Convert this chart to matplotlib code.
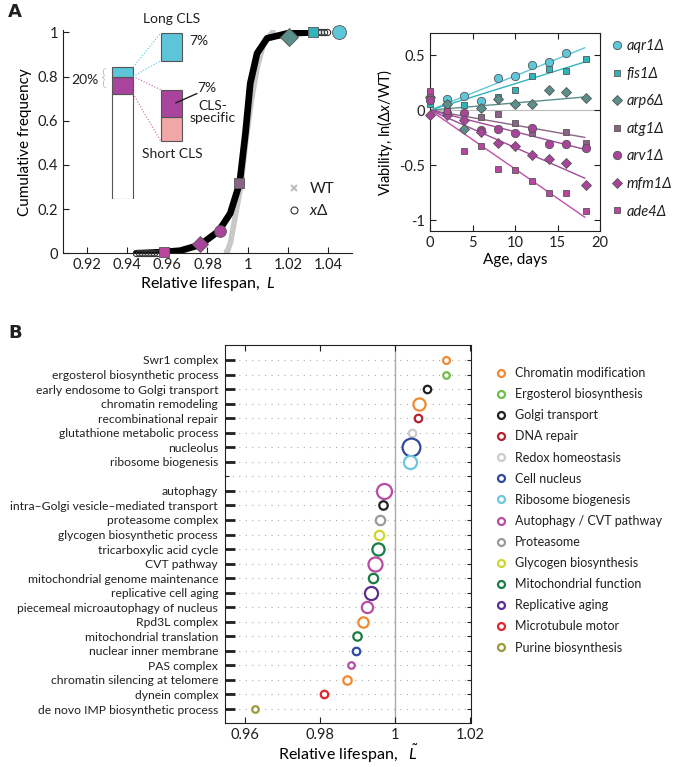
import numpy as np
import matplotlib
matplotlib.use('Agg')
import matplotlib.pyplot as plt
from matplotlib.lines import Line2D
from matplotlib.ticker import FuncFormatter

plt.rcParams['font.family'] = ['Lato', 'DejaVu Sans']
plt.rcParams['mathtext.fontset'] = 'custom'
plt.rcParams['mathtext.rm'] = 'Lato'
plt.rcParams['mathtext.it'] = 'Lato:italic'
plt.rcParams['text.color'] = '#231f20'
plt.rcParams['axes.edgecolor'] = '#231f20'
plt.rcParams['xtick.color'] = '#231f20'
plt.rcParams['ytick.color'] = '#231f20'

# ---- panel A left: cumulative distribution of relative lifespan
curve_L = [0.9445, 0.950, 0.958, 0.9664, 0.9763, 0.9855, 0.9913, 0.996, 0.9989, 1.0013, 1.0047, 1.0097, 1.0197, 1.033]
curve_F = [0.0, 0.002, 0.006, 0.012, 0.038, 0.10, 0.18, 0.317, 0.543, 0.769, 0.905, 0.973, 0.995, 1.0]
wt_L = [0.9895, 0.9915, 0.9935, 0.9965, 0.999, 1.002, 1.005, 1.008, 1.0115, 1.0125]
wt_F = [0.0, 0.05, 0.15, 0.3, 0.5, 0.7, 0.85, 0.95, 0.99, 1.0]
tail_low_L = [0.9445, 0.946, 0.9475, 0.949, 0.9505, 0.952, 0.9535, 0.955]
tail_high_L = [1.0335, 1.035, 1.0365, 1.038, 1.0395]

# inset bar (% of genes)
bar_parts = [80, 13, 7]        # other, short CLS, long CLS
long_cls = 7
cls_specific = 7
short_other = 6

# ---- panel A right: viability vs age
genes = ['aqr1', 'fis1', 'arp6', 'atg1', 'arv1', 'mfm1', 'ade4']
gene_L = [1.0455, 1.0325, 1.0205, 0.9957, 0.986, 0.9763, 0.9584]
gene_F = [1.0, 1.0, 0.98, 0.317, 0.10, 0.04, 0.008]
days = [0, 2, 4, 6, 8, 10, 12, 14, 16, 18.3]
nan = np.nan
viab = {
    'aqr1': [0.115, 0.10, 0.13, 0.084, 0.293, 0.308, 0.408, 0.438, 0.52, nan],
    'fis1': [0.06, 0.054, 0.05, nan, 0.12, 0.187, 0.308, 0.375, 0.356, 0.468],
    'arp6': [0.12, 0.06, -0.175, 0.02, 0.1, 0.057, 0.057, 0.18, 0.166, 0.115],
    'atg1': [0.16, -0.01, nan, -0.06, -0.033, -0.115, -0.21, nan, -0.2, -0.296],
    'arv1': [0.09, -0.024, -0.03, -0.18, -0.172, -0.21, -0.16, -0.308, -0.308, -0.344],
    'mfm1': [-0.04, -0.045, -0.09, -0.2, -0.3, -0.326, -0.41, -0.447, -0.483, -0.68],
    'ade4': [0.175, -0.006, -0.37, -0.323, -0.532, -0.544, -0.643, -0.755, -0.755, -0.92],
}
slopes = [0.0312, 0.0241, 0.0066, -0.0136, -0.0196, -0.034, -0.0535]
fit_end = 18.2

gene_marker = ['o', 's', 'D', 's', 'o', 'D', 's']
gene_face = ['#5ec7d9', '#2fb4bc', '#5b8f8a', '#8a6486', '#a8459b', '#a8459b', '#b9479f']
gene_line = ['#5ec7d9', '#2fb4bc', '#5b8f8a', '#8a6486', '#a04a9a', '#a04a9a', '#c150a9']
gene_ms_big = [10, 7, 9, 7.5, 8.5, 8.5, 7]
gene_ms = [6, 5, 5.5, 5, 6, 5.5, 5]

# ---- panel B: GO terms
terms = ['Swr1 complex', 'ergosterol biosynthetic process', 'early endosome to Golgi transport',
         'chromatin remodeling', 'recombinational repair', 'glutathione metabolic process',
         'nucleolus', 'ribosome biogenesis', '',
         'autophagy', 'intra\u2013Golgi vesicle\u2013mediated transport', 'proteasome complex',
         'glycogen biosynthetic process', 'tricarboxylic acid cycle', 'CVT pathway',
         'mitochondrial genome maintenance', 'replicative cell aging',
         'piecemeal microautophagy of nucleus', 'Rpd3L complex', 'mitochondrial translation',
         'nuclear inner membrane', 'PAS complex', 'chromatin silencing at telomere',
         'dynein complex', 'de novo IMP biosynthetic process']
term_L = [1.0135, 1.0135, 1.0087, 1.0065, 1.0062, 1.0047, 1.0044, 1.0041, nan,
          0.9971, 0.9967, 0.996, 0.9957, 0.9956, 0.9948, 0.9941, 0.9937,
          0.9925, 0.9916, 0.9898, 0.9895, 0.9884, 0.9873, 0.981, 0.9627]
term_size = [3.7, 3.5, 4, 6.5, 4, 4, 9.5, 7, 0,
             8, 4.5, 5, 5, 6.5, 7.5, 5, 7, 6, 5.5, 4.5, 4, 3.5, 4.5, 4, 3.5]
term_cat = [0, 1, 2, 0, 3, 4, 5, 6, None, 7, 2, 8, 9, 10, 7, 10, 11, 7, 0, 10, 5, 7, 0, 12, 13]

categories = ['Chromatin modification', 'Ergosterol biosynthesis', 'Golgi transport', 'DNA repair',
              'Redox homeostasis', 'Cell nucleus', 'Ribosome biogenesis', 'Autophagy / CVT pathway',
              'Proteasome', 'Glycogen biosynthesis', 'Mitochondrial function', 'Replicative aging',
              'Microtubule motor', 'Purine biosynthesis']
cat_colors = ['#f08a32', '#6dbd46', '#231f20', '#b4232c', '#cccccc', '#2f4a9c', '#6cc6dd', '#b94ca5',
              '#9a9a9a', '#cdd531', '#197c45', '#5b2d8e', '#e0262f', '#9b9a3a']

fig = plt.figure(figsize=(6.74, 7.67), dpi=100)
W, H = 674.0, 767.0

def axes_px(x0, y0, x1, y1):
    return fig.add_axes([x0 / W, 1 - y1 / H, (x1 - x0) / W, (y1 - y0) / H])

fmt = FuncFormatter(lambda v, p: '%g' % round(v, 4))

# ================= A left
ax1 = axes_px(63, 30.1, 352, 253.3)
ax1.plot(wt_L, wt_F, color='#c8c8c8', lw=4, solid_capstyle='round', zorder=2)
ax1.plot([wt_L[0], wt_L[-1]], [wt_F[0], wt_F[-1]], 'x', color='#c8c8c8', ms=5, mew=1.5, zorder=2)
ax1.plot(curve_L, curve_F, color='black', lw=4.8, solid_capstyle='round', zorder=3)
ax1.plot(tail_low_L, [0] * len(tail_low_L), 'o', mfc='none', mec='#333333', ms=4.5, mew=0.8,
         clip_on=False, zorder=3)
ax1.plot(tail_high_L, [1] * len(tail_high_L), 'o', mfc='none', mec='#333333', ms=4.5, mew=0.8,
         clip_on=False, zorder=3)
for i in range(len(genes)):
    ax1.plot(gene_L[i], gene_F[i], gene_marker[i], mfc=gene_face[i], mec='#555555', mew=0.6,
             ms=gene_ms_big[i], clip_on=False, zorder=5)
ax1.set_xlim(0.908, 1.052)
ax1.set_ylim(0, 1.01)
ax1.set_xticks([0.92, 0.94, 0.96, 0.98, 1, 1.02, 1.04])
ax1.set_yticks([0, 0.2, 0.4, 0.6, 0.8, 1])
ax1.xaxis.set_major_formatter(fmt)
ax1.yaxis.set_major_formatter(fmt)
ax1.spines['top'].set_visible(False)
ax1.spines['right'].set_visible(False)
ax1.tick_params(direction='in', length=4, labelsize=10.5)
ax1.set_xlabel('Relative lifespan,  $\\it{L}$', fontsize=11.5, labelpad=2)
ax1.set_ylabel('Cumulative frequency', fontsize=11, labelpad=4)
h_wt = Line2D([], [], ls='none', marker='x', color='#c0c0c0', ms=5, mew=1.5)
h_x = Line2D([], [], ls='none', marker='o', mfc='none', mec='#333333', ms=5, mew=0.8)
ax1.legend([h_wt, h_x], ['WT', '$\\it{x}\\Delta$'], loc='upper left', bbox_to_anchor=(0.72, 0.38),
           frameon=False, fontsize=11, handletextpad=0.4, labelspacing=0.45, handlelength=1.2)
fig.text(8 / W, 1 - 12 / H, 'A', fontsize=13, fontweight='bold', family='DejaVu Sans', va='center')

# inset bar
ins = axes_px(70, 14.6, 240, 199)
ins.set_xlim(0, 170)
ins.set_ylim(0, 140)
ins.axis('off')
bar_cols = ['white', '#a8449b', '#5cc5d8']
bottom = 0
for v, c in zip(bar_parts, bar_cols):
    ins.bar(52.5, v, width=21, bottom=bottom, color=c, edgecolor='#555555', lw=0.8)
    bottom += v
ins.bar(101.2, long_cls * 3, width=21, bottom=105, color='#5cc5d8', edgecolor='#555555', lw=0.8)
ins.bar(101.2, short_other * 3, width=21, bottom=44, color='#f2a7a7', edgecolor='#555555', lw=0.8)
ins.bar(101.2, cls_specific * 3, width=21, bottom=62, color='#a8449b', edgecolor='#555555', lw=0.8)
ins.plot([63, 90.7], [100, 126], ls=':', color='#5cc5d8', lw=0.8)
ins.plot([63, 90.7], [93, 105], ls=':', color='#5cc5d8', lw=0.8)
ins.plot([63, 90.7], [93, 83], ls=':', color='#c060a8', lw=0.8)
ins.plot([63, 90.7], [80, 44], ls=':', color='#c060a8', lw=0.8)
ins.plot([106, 126.7], [73, 80], color='#231f20', lw=1)
ins.text(102, 136.5, 'Long CLS', ha='center', va='center', fontsize=10)
ins.text(102, 34, 'Short CLS', ha='center', va='center', fontsize=10)
ins.text(119, 120, '7%', ha='left', va='center', fontsize=10)
ins.text(127, 84, '7%', ha='left', va='center', fontsize=10)
ins.text(143, 66, 'CLS-\nspecific', ha='center', va='center', fontsize=10, linespacing=0.95)
ins.text(29, 90, '20%', ha='right', va='center', fontsize=10)
ins.text(30.5, 90.5, '{', ha='left', va='center', fontsize=16, fontweight='light', color='#231f20')

# ================= A right
ax2 = axes_px(430, 33.3, 600, 231)
ax2.axhline(0, color='#bbbbbb', lw=0.8, zorder=1)
for i, g in enumerate(genes):
    ax2.plot([0, fit_end], [0, slopes[i] * fit_end], color=gene_line[i], lw=1, zorder=2)
for i, g in enumerate(genes):
    ax2.plot(days, viab[g], gene_marker[i], mfc=gene_face[i], mec='#555555', mew=0.6,
             ms=gene_ms[i], clip_on=False, zorder=3, label=g + '\u0394')
ax2.set_xlim(0, 20)
ax2.set_ylim(-1.1, 0.7)
ax2.set_xticks([0, 5, 10, 15, 20])
ax2.set_yticks([-1, -0.5, 0, 0.5])
ax2.yaxis.set_major_formatter(fmt)
ax2.tick_params(direction='in', length=4, labelsize=10.5, top=True, right=True)
ax2.set_xlabel('Age, days', fontsize=11, labelpad=2)
ax2.set_ylabel('Viability, ln(\u0394$\\it{x}$/WT)', fontsize=10.5, labelpad=3)
leg2 = ax2.legend(loc='upper left', bbox_to_anchor=(1.02, 1.0), frameon=False, fontsize=10.5,
                  handletextpad=0.2, labelspacing=0.93, handlelength=1.0, borderaxespad=0)
for t in leg2.get_texts():
    t.set_style('italic')

# ================= B
ax3 = axes_px(225, 345, 471, 723)
rows = np.arange(len(terms))
for r in rows:
    ax3.plot([0.955, 1.0203], [r, r], ls=(0, (0.8, 5)), color='#9a9a9a', lw=0.8, zorder=1)
ax3.axvline(1, color='#aaaaaa', lw=1, zorder=1)
for r in rows:
    if term_cat[r] is None:
        continue
    ax3.plot(term_L[r], r, 'o', mfc='white', mec=cat_colors[term_cat[r]], mew=1.6,
             ms=term_size[r] * 1.35, zorder=3)
ax3.set_xlim(0.9547, 1.0203)
ax3.set_ylim(24.96, -1.03)
ax3.set_xticks([0.96, 0.98, 1, 1.02])
ax3.xaxis.set_major_formatter(fmt)
ax3.set_yticks(rows)
ax3.set_yticklabels(terms, fontsize=8.7)
ax3.tick_params(axis='x', direction='in', length=4, labelsize=10.5, top=True)
ax3.tick_params(axis='y', direction='in', length=7, width=2, right=True, pad=5)
dash_colors = [cat_colors[c] if c is not None else '#231f20' for c in term_cat]
dash_colors[terms.index('dynein complex')] = '#231f20'
dash_colors[terms.index('recombinational repair')] = '#e0262f'
for tk, c, cat in zip(ax3.yaxis.get_major_ticks(), dash_colors, term_cat):
    tk.tick1line.set_color(c)
    if cat is None:
        tk.tick1line.set_markeredgewidth(0.8)
        tk.tick1line.set_markersize(3)
    tk.tick2line.set_color('#555555')
    tk.tick2line.set_markeredgewidth(0.8)
    tk.tick2line.set_markersize(3)
ax3.set_xlabel('Relative lifespan,   $\\tilde{L}$', fontsize=11.5, labelpad=1)
handles = [Line2D([], [], ls='none', marker='o', mfc='white', mec=c, mew=1.6, ms=5) for c in cat_colors]
fig.legend(handles, categories, loc='upper left', bbox_to_anchor=(490 / W, 1 - 362 / H), frameon=False,
           fontsize=9, handletextpad=0.6, labelspacing=0.73, handlelength=1.0, borderaxespad=0)
fig.text(8 / W, 1 - 333 / H, 'B', fontsize=13, fontweight='bold', family='DejaVu Sans', va='center')

fig.savefig('out.png', dpi=100)
